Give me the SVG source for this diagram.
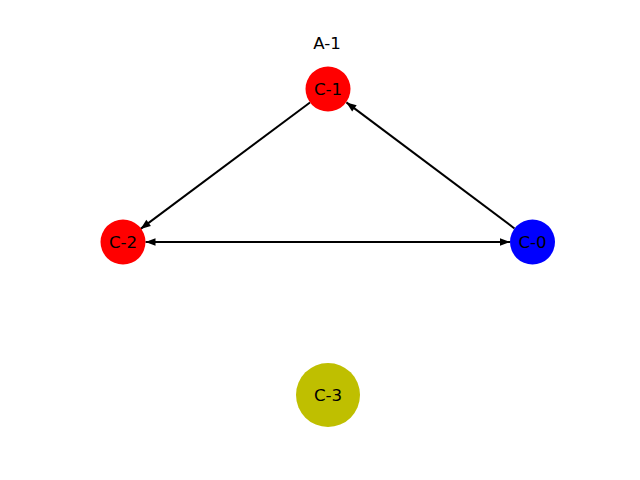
<svg xmlns="http://www.w3.org/2000/svg" width="640" height="480" viewBox="0 0 640 480">
<style>
text{font-family:"DejaVu Sans",sans-serif;font-size:16.67px;fill:#000;text-anchor:middle;dominant-baseline:central}
.e{stroke:#000;stroke-width:2;fill:none}
</style>
<defs>
<marker id="ah" markerUnits="userSpaceOnUse" markerWidth="12" markerHeight="10" viewBox="-11 -5 12 10" refX="0" refY="0" orient="auto-start-reverse">
<path d="M0,0 L-10,-3.8 L-10,3.8 Z" fill="#000"/>
</marker>
</defs>
<rect width="640" height="480" fill="#fff"/>
<text x="327" y="43">A-1</text>
<g id="edges">
<path class="e" d="M310,102.5 L140.6,228.9" marker-end="url(#ah)"/>
<path class="e" d="M514.5,228.5 L346.4,102.4" marker-end="url(#ah)"/>
<path class="e" d="M145.5,242 L510,242" marker-start="url(#ah)" marker-end="url(#ah)"/>
</g>
<g id="C-1"><circle cx="328" cy="89" r="22.5" fill="#ff0000"/><text x="328" y="89">C-1</text></g>
<g id="C-2"><circle cx="123" cy="242" r="22.5" fill="#ff0000"/><text x="123" y="242">C-2</text></g>
<g id="C-0"><circle cx="532.5" cy="242" r="22.5" fill="#0000ff"/><text x="532.5" y="242">C-0</text></g>
<g id="C-3"><circle cx="328" cy="395" r="32" fill="#bfbf00"/><text x="328" y="395">C-3</text></g>
</svg>
